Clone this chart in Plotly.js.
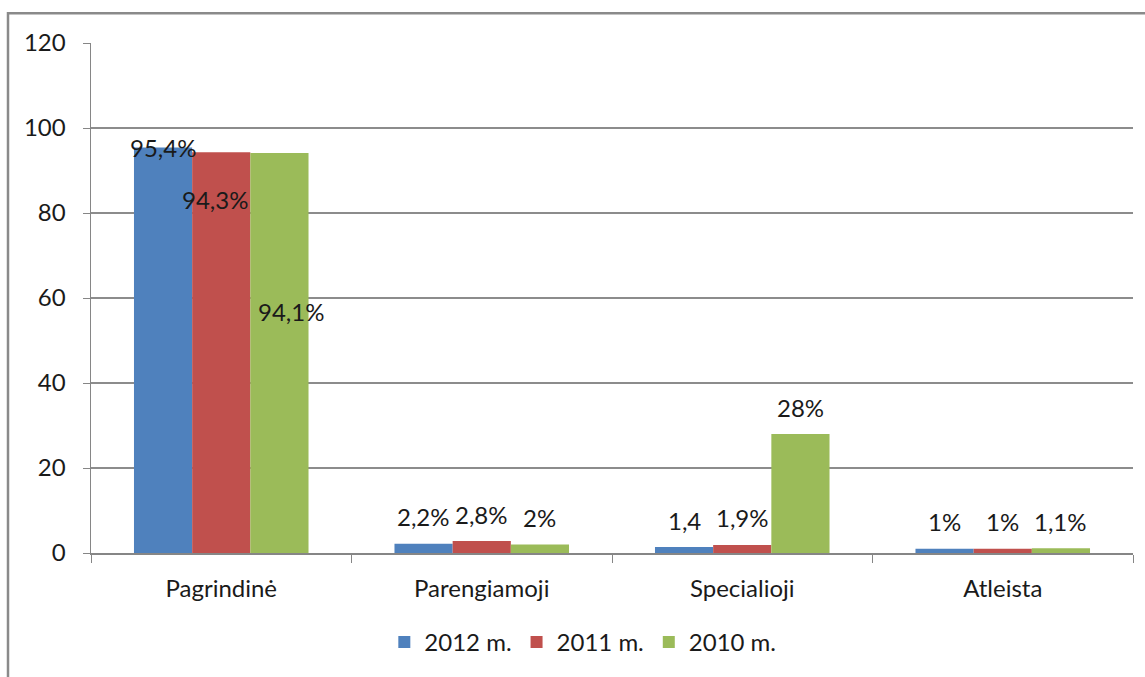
<!DOCTYPE html>
<html>
<head>
<meta charset="utf-8">
<script src="https://cdn.plot.ly/plotly-3.0.1.min.js"></script>
<style>html,body{margin:0;padding:0;background:#fff;}#chart{width:1145px;height:677px;}</style>
</head>
<body>
<div id="chart"></div>
<script>
const categories = ["Pagrindinė", "Parengiamoji", "Specialioji", "Atleista"];
const seriesNames = ["2012 m.", "2011 m.", "2010 m."];
const values2012 = [95.4, 2.2, 1.4, 1.0];
const values2011 = [94.3, 2.8, 1.9, 1.0];
const values2010 = [94.1, 2.0, 28.0, 1.1];
const labels2012 = ["95,4%", "2,2%", "1,4", "1%"];
const labels2011 = ["94,3%", "2,8%", "1,9%", "1%"];
const labels2010 = ["94,1%", "2%", "28%", "1,1%"];
const yTicks = [0, 20, 40, 60, 80, 100, 120];

const colors = ["#4f81bd", "#c0504d", "#9bbb59"];
const allValues = [values2012, values2011, values2010];
const allLabels = [labels2012, labels2011, labels2010];
const FONT = "Lato, 'Open Sans', sans-serif";
const FS = 24;

// label pixel offsets (style): default above bar; first category placed as in source
const yShiftDefault = 27;
const yShiftFirst = [0, -47, -158];
const xShiftFirst = [0, -6, 12];

const W = 1145, H = 677;
const margin = {l: 91, r: 12, t: 43, b: 121};
const bargap = 0.33;

const traces = seriesNames.map((n, i) => ({
  type: "bar",
  name: n,
  x: categories,
  y: allValues[i],
  marker: {color: colors[i], line: {width: 0}},
  hoverinfo: "x+y+name"
}));

const annotations = [];
const slot = (1 - bargap) / seriesNames.length;
allValues.forEach((vals, i) => {
  vals.forEach((v, j) => {
    annotations.push({
      xref: "x", yref: "y",
      x: j + (i - (seriesNames.length - 1) / 2) * slot,
      y: v,
      text: allLabels[i][j],
      showarrow: false,
      xanchor: "center", yanchor: "middle",
      yshift: j === 0 ? yShiftFirst[i] : yShiftDefault,
      xshift: j === 0 ? xShiftFirst[i] : 0,
      font: {family: FONT, size: FS, color: "#1a1a1a"}
    });
  });
});

const pw = W - margin.l - margin.r, ph = H - margin.t - margin.b;
const px = p => (p - margin.l) / pw;
const py = p => (H - margin.b - p) / ph;

const layout = {
  width: W, height: H,
  margin: margin,
  paper_bgcolor: "#ffffff",
  plot_bgcolor: "#ffffff",
  barmode: "group",
  bargap: bargap,
  bargroupgap: 0,
  font: {family: FONT, size: FS, color: "#1a1a1a"},
  showlegend: true,
  legend: {
    orientation: "h",
    x: 0.472, xanchor: "center",
    y: py(646), yanchor: "middle",
    font: {family: FONT, size: FS, color: "#1a1a1a"},
    itemwidth: 30,
    tracegroupgap: 0
  },
  xaxis: {
    type: "category",
    showgrid: false,
    showline: true, linecolor: "#868686", linewidth: 1.5,
    ticks: "outside", tickson: "boundaries", ticklen: 8, tickcolor: "#868686",
    tickfont: {family: FONT, size: FS, color: "#1a1a1a"},
    ticklabelstandoff: 14,
    fixedrange: true
  },
  yaxis: {
    range: [0, 120],
    tickvals: yTicks,
    ticktext: yTicks.map(String),
    showgrid: true, gridcolor: "#8c8c8c", gridwidth: 1.2,
    zeroline: false,
    showline: true, linecolor: "#868686", linewidth: 1.5,
    ticks: "outside", ticklen: 7, tickcolor: "#868686",
    tickfont: {family: FONT, size: FS, color: "#1a1a1a"},
    ticklabelstandoff: 12,
    fixedrange: true
  },
  annotations: annotations,
  shapes: [{
    type: "rect", xref: "paper", yref: "paper",
    x0: px(8), x1: px(1160), y0: py(700), y1: py(13),
    line: {color: "#8a8a8a", width: 2.5},
    fillcolor: "rgba(0,0,0,0)",
    layer: "below"
  }]
};

Plotly.newPlot("chart", traces, layout, {displayModeBar: false, staticPlot: true});
</script>
</body>
</html>
